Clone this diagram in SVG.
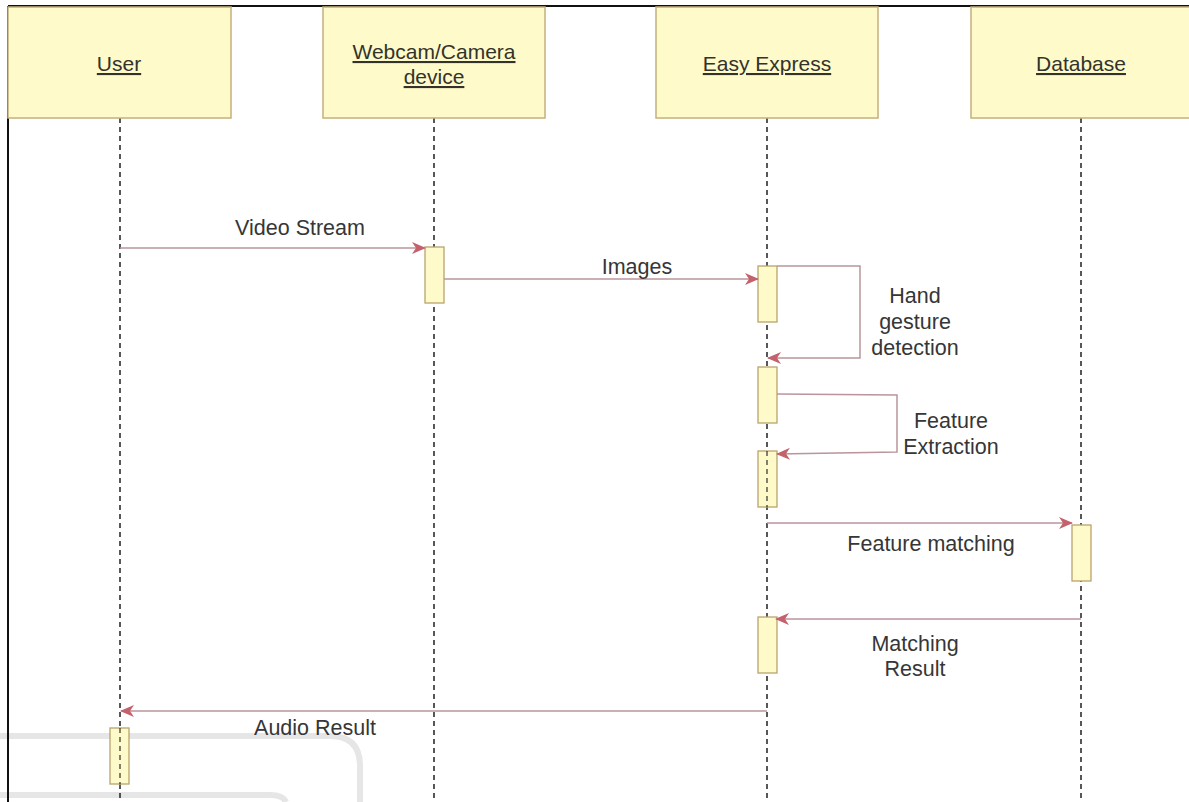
<svg xmlns="http://www.w3.org/2000/svg" width="1189" height="802" viewBox="0 0 1189 802">
<style>
.box{fill:#fefac9;stroke:#c4b07e;stroke-width:1.5}
.act{fill:#fefac9;stroke:#b9a46e;stroke-width:1.3}
.life{stroke:#111;stroke-width:1.4;stroke-dasharray:5 4;fill:none}
.msg{stroke:#b8969b;stroke-width:1.5;fill:none}
.hdr{font-family:"Liberation Sans",Arial,sans-serif;font-size:21px;fill:#33332c;text-anchor:middle;text-decoration:underline}
.lbl{font-family:"Liberation Sans",Arial,sans-serif;font-size:21.5px;fill:#363636;text-anchor:middle}
.wm{stroke:#e6e6e6;stroke-width:6;fill:none}
</style>
<defs>
<marker id="arr" viewBox="0 0 14 12" refX="13" refY="6" markerWidth="14" markerHeight="12" markerUnits="userSpaceOnUse" orient="auto">
<path d="M0,0 L14,6 L0,12 L4,6 z" fill="#c5606d"/>
</marker>
</defs>
<rect width="1189" height="802" fill="#fff"/>
<g id="watermark">
<path class="wm" d="M0,736 H330 Q360,736 360,766 V802"/>
<path class="wm" d="M0,795 H270 Q283,795 286,802"/>
</g>
<g id="frame">
<line x1="8" y1="6" x2="1189" y2="6" stroke="#111" stroke-width="2"/>
<line x1="8" y1="6" x2="8" y2="802" stroke="#111" stroke-width="2"/>
</g>
<g id="lifelines">
<line class="life" x1="120" y1="118" x2="120" y2="802"/>
<line class="life" x1="434" y1="118" x2="434" y2="802"/>
<line class="life" x1="767" y1="118" x2="767" y2="802"/>
<line class="life" x1="1081" y1="118" x2="1081" y2="802"/>
</g>
<g id="user">
<rect class="box" x="8" y="7" width="223" height="111"/>
<text class="hdr" x="119" y="71">User</text>
</g>
<g id="webcam">
<rect class="box" x="323" y="7" width="222" height="111"/>
<text class="hdr" x="434" y="59">Webcam/Camera</text>
<text class="hdr" x="434" y="84">device</text>
</g>
<g id="easyexpress">
<rect class="box" x="656" y="7" width="222" height="111"/>
<text class="hdr" x="767" y="71">Easy Express</text>
</g>
<g id="database">
<rect class="box" x="971" y="7" width="230" height="111"/>
<text class="hdr" x="1081" y="71">Database</text>
</g>
<g id="activations">
<rect class="act" x="425" y="247" width="19" height="56"/>
<rect class="act" x="758" y="266" width="19" height="56"/>
<rect class="act" x="758" y="367" width="19" height="56"/>
<rect class="act" x="758" y="451" width="19" height="56"/>
<rect class="act" x="1072" y="525" width="19" height="56"/>
<rect class="act" x="758" y="617" width="19" height="56"/>
<rect class="act" x="110" y="728" width="19" height="56"/>
<line class="life" x1="767" y1="451" x2="767" y2="507" opacity="0.75"/>
<line class="life" x1="120" y1="728" x2="120" y2="784" opacity="0.75"/>
</g>
<g id="connectors">
<line class="msg" x1="120" y1="248" x2="425" y2="248" stroke="#d28c96" marker-end="url(#arr)"/>
<line class="msg" x1="444" y1="279" x2="758" y2="279" marker-end="url(#arr)"/>
<polyline class="msg" points="777,266 860,266 860,358 768,358" marker-end="url(#arr)"/>
<polyline class="msg" points="777,394 897,395 897,452 777,454" marker-end="url(#arr)"/>
<line class="msg" x1="767" y1="523" x2="1072" y2="523" marker-end="url(#arr)"/>
<line class="msg" x1="1081" y1="619" x2="776" y2="619" marker-end="url(#arr)"/>
<line class="msg" x1="767" y1="711" x2="121" y2="711" marker-end="url(#arr)"/>
</g>
<g id="labels">
<text class="lbl" x="300" y="235">Video Stream</text>
<text class="lbl" x="637" y="274">Images</text>
<text class="lbl" x="915" y="303">Hand</text>
<text class="lbl" x="915" y="329">gesture</text>
<text class="lbl" x="915" y="355">detection</text>
<text class="lbl" x="951" y="428">Feature</text>
<text class="lbl" x="951" y="454">Extraction</text>
<text class="lbl" x="931" y="551">Feature matching</text>
<text class="lbl" x="915" y="651">Matching</text>
<text class="lbl" x="915" y="676">Result</text>
<text class="lbl" x="315" y="735">Audio Result</text>
</g>
</svg>
